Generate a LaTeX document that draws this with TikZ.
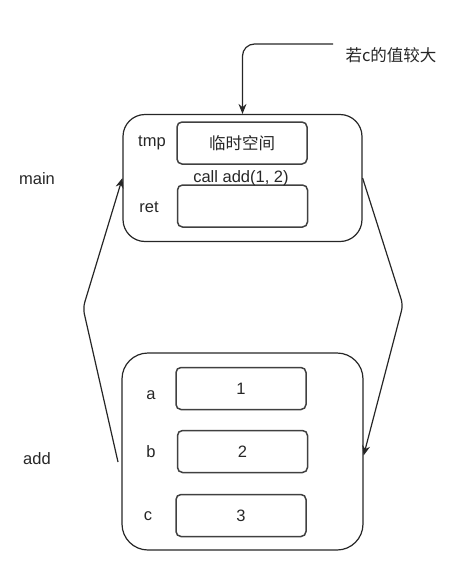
\documentclass[tikz,border=0pt]{standalone}
\usepackage{fontspec}
\setmainfont{Liberation Sans}
\newfontfamily\cjk{Noto Sans CJK SC}
\usetikzlibrary{arrows.meta}

\begin{document}
\begin{tikzpicture}[x=1pt,y=-1pt]

% frame and field styles
\tikzset{
  frame/.style={draw=black!85, rounded corners=22pt, line width=1.2pt, inner sep=0pt},
  field/.style={draw=black!75, rounded corners=5pt, line width=1.5pt, minimum width=130pt, minimum height=42pt, inner sep=0pt, font=\fontsize{16.5}{18}\selectfont, text=black!85},
  tag/.style={font=\fontsize{16.5}{18}\selectfont, text=black!85, inner sep=0pt},
  conn/.style={draw=black!85, line width=1.2pt, rounded corners=6pt, -{Stealth[length=10pt,width=8pt]}},
}

\useasboundingbox (0,0) rectangle (454,576);

% ---------------- main frame ----------------
\node[frame, minimum width=239pt, minimum height=127pt] (main) at (242.5,178) {};
\node[field] (tmp) at (242,143) {};
\node[field] (ret) at (242.5,206) {};
\node[tag] (tmpText) at (242,143) {\cjk 临时空间};
\node[tag] (tmpLabel) at (152,143) {tmp};
\node[tag] (retLabel) at (149,207) {ret};
\node[tag] (callText) at (241,178) {call add(1, 2)};
\node[tag] (mainLabel) at (37,179) {main};

% ---------------- add frame ----------------
\node[frame, minimum width=241pt, minimum height=197pt, rounded corners=26pt] (add) at (242.5,451.5) {};
\node[field] (a) at (241,388.5) {1};
\node[field] (b) at (242.5,451.5) {2};
\node[field] (c) at (241,515.5) {3};
\node[tag] (aLabel) at (151,395) {a};
\node[tag] (bLabel) at (151,452) {b};
\node[tag] (cLabel) at (148,516) {c};
\node[tag] (addLabel) at (37,459) {add};

% ---------------- note and connectors ----------------
\node[tag] (note) at (391,55) {\cjk 若c的值较大};
\coordinate (noteIn) at (333,44);
\coordinate (addOut) at (118,462);

\draw[conn, rounded corners=12pt] (noteIn) -| (main.north);
\draw[conn] (addOut) -- (83,308) -- (main.west);
\draw[conn] (main.east) -- (403,305) -- ([yshift=-4pt]add.east);

\end{tikzpicture}
\end{document}
